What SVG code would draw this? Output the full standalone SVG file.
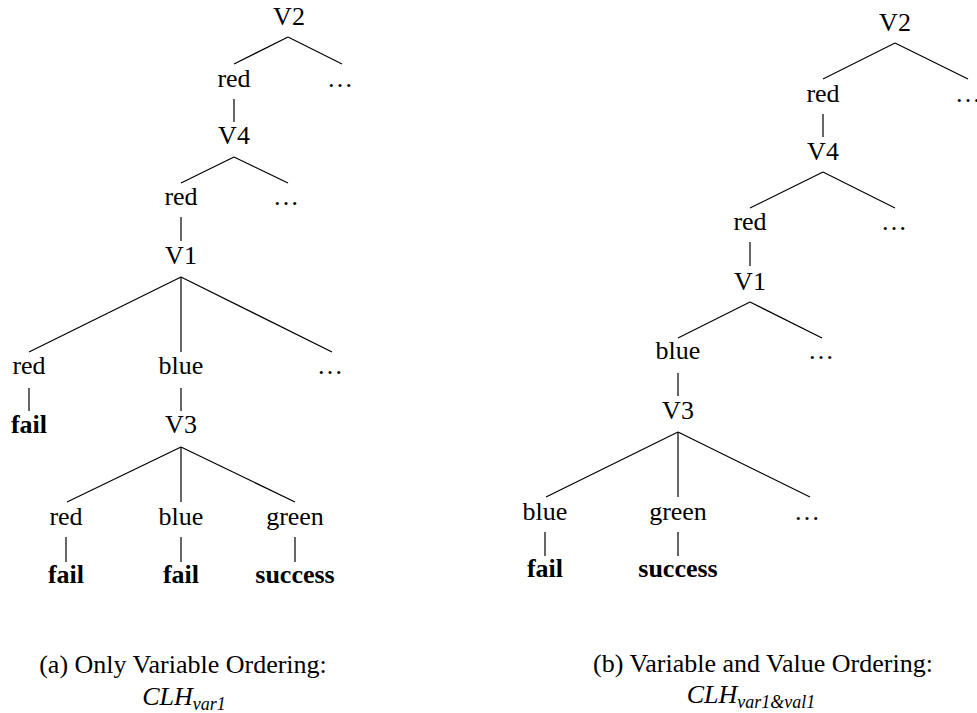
<svg xmlns="http://www.w3.org/2000/svg" width="977" height="713" viewBox="0 0 977 713">
  <style>
    text { font-family: "Liberation Serif", "Times New Roman", serif; font-size: 26px; fill: #000; text-anchor: middle; }
    .b { font-weight: bold; }
    .cap { text-anchor: middle; }
    .it { font-style: italic; }
    .sub { font-size: 18px; }
    #edges line { stroke: #000; stroke-width: 1.2; }
  </style>
  <rect width="977" height="713" fill="#fff"/>

  <!-- Connectors -->
  <g id="edges">
    <!-- (a) tree -->
    <line x1="288" y1="37" x2="234" y2="64"/>
    <line x1="288" y1="37" x2="342" y2="64"/>
    <line x1="234" y1="99" x2="234" y2="122"/>
    <line x1="234" y1="157" x2="181" y2="183"/>
    <line x1="234" y1="157" x2="288" y2="183"/>
    <line x1="181" y1="217" x2="181" y2="241"/>
    <line x1="181" y1="277" x2="29" y2="352"/>
    <line x1="181" y1="277" x2="181" y2="352"/>
    <line x1="181" y1="277" x2="332" y2="352"/>
    <line x1="29" y1="388" x2="29" y2="411"/>
    <line x1="181" y1="388" x2="181" y2="411"/>
    <line x1="181" y1="447" x2="67" y2="502"/>
    <line x1="181" y1="447" x2="181" y2="502"/>
    <line x1="181" y1="447" x2="295" y2="502"/>
    <line x1="66" y1="537" x2="66" y2="562"/>
    <line x1="181" y1="537" x2="181" y2="562"/>
    <line x1="295" y1="537" x2="295" y2="562"/>
    <!-- (b) tree -->
    <line x1="895" y1="43" x2="823" y2="79"/>
    <line x1="895" y1="43" x2="968" y2="79"/>
    <line x1="823" y1="114" x2="823" y2="137"/>
    <line x1="823" y1="172" x2="750" y2="208"/>
    <line x1="823" y1="172" x2="895" y2="208"/>
    <line x1="750" y1="242" x2="750" y2="266"/>
    <line x1="750" y1="302" x2="678" y2="338"/>
    <line x1="750" y1="302" x2="822" y2="338"/>
    <line x1="678" y1="373" x2="678" y2="396"/>
    <line x1="678" y1="432" x2="546" y2="497"/>
    <line x1="678" y1="432" x2="678" y2="497"/>
    <line x1="678" y1="432" x2="810" y2="497"/>
    <line x1="545" y1="532" x2="545" y2="556"/>
    <line x1="678" y1="532" x2="678" y2="556"/>
  </g>

  <!-- (a) Only variable ordering -->
  <g id="a-V2"><text x="289" y="25">V2</text></g>
  <g id="a-V2-red"><text x="234" y="87">red</text></g>
  <g id="a-V2-more"><text x="340" y="87">…</text></g>
  <g id="a-V4"><text x="234" y="144">V4</text></g>
  <g id="a-V4-red"><text x="181" y="205">red</text></g>
  <g id="a-V4-more"><text x="286" y="205">…</text></g>
  <g id="a-V1"><text x="181" y="264">V1</text></g>
  <g id="a-V1-red"><text x="29" y="374">red</text></g>
  <g id="a-V1-blue"><text x="181" y="374">blue</text></g>
  <g id="a-V1-more"><text x="330" y="374">…</text></g>
  <g id="a-fail1"><text class="b" x="29" y="433">fail</text></g>
  <g id="a-V3"><text x="181" y="433">V3</text></g>
  <g id="a-V3-red"><text x="66" y="525">red</text></g>
  <g id="a-V3-blue"><text x="181" y="525">blue</text></g>
  <g id="a-V3-green"><text x="295" y="525">green</text></g>
  <g id="a-fail2"><text class="b" x="66" y="583">fail</text></g>
  <g id="a-fail3"><text class="b" x="181" y="583">fail</text></g>
  <g id="a-success"><text class="b" x="295" y="583">success</text></g>

  <!-- (b) Variable and value ordering -->
  <g id="b-V2"><text x="895" y="31">V2</text></g>
  <g id="b-V2-red"><text x="823" y="102">red</text></g>
  <g id="b-V2-more"><text x="968" y="102">…</text></g>
  <g id="b-V4"><text x="823" y="160">V4</text></g>
  <g id="b-V4-red"><text x="750" y="230">red</text></g>
  <g id="b-V4-more"><text x="894" y="230">…</text></g>
  <g id="b-V1"><text x="750" y="290">V1</text></g>
  <g id="b-V1-blue"><text x="678" y="359">blue</text></g>
  <g id="b-V1-more"><text x="821" y="359">…</text></g>
  <g id="b-V3"><text x="678" y="419">V3</text></g>
  <g id="b-V3-blue"><text x="545" y="520">blue</text></g>
  <g id="b-V3-green"><text x="678" y="520">green</text></g>
  <g id="b-V3-more"><text x="807" y="520">…</text></g>
  <g id="b-fail"><text class="b" x="545" y="577">fail</text></g>
  <g id="b-success"><text class="b" x="678" y="577">success</text></g>

  <!-- Captions -->
  <g id="caption-a">
    <text x="183" y="673">(a) Only Variable Ordering:</text>
    <text class="it" x="184" y="705">CLH<tspan class="sub" dy="5">var1</tspan></text>
  </g>
  <g id="caption-b">
    <text x="763" y="672">(b) Variable and Value Ordering:</text>
    <text class="it" x="751" y="703">CLH<tspan class="sub" dy="5">var1&amp;val1</tspan></text>
  </g>
</svg>
